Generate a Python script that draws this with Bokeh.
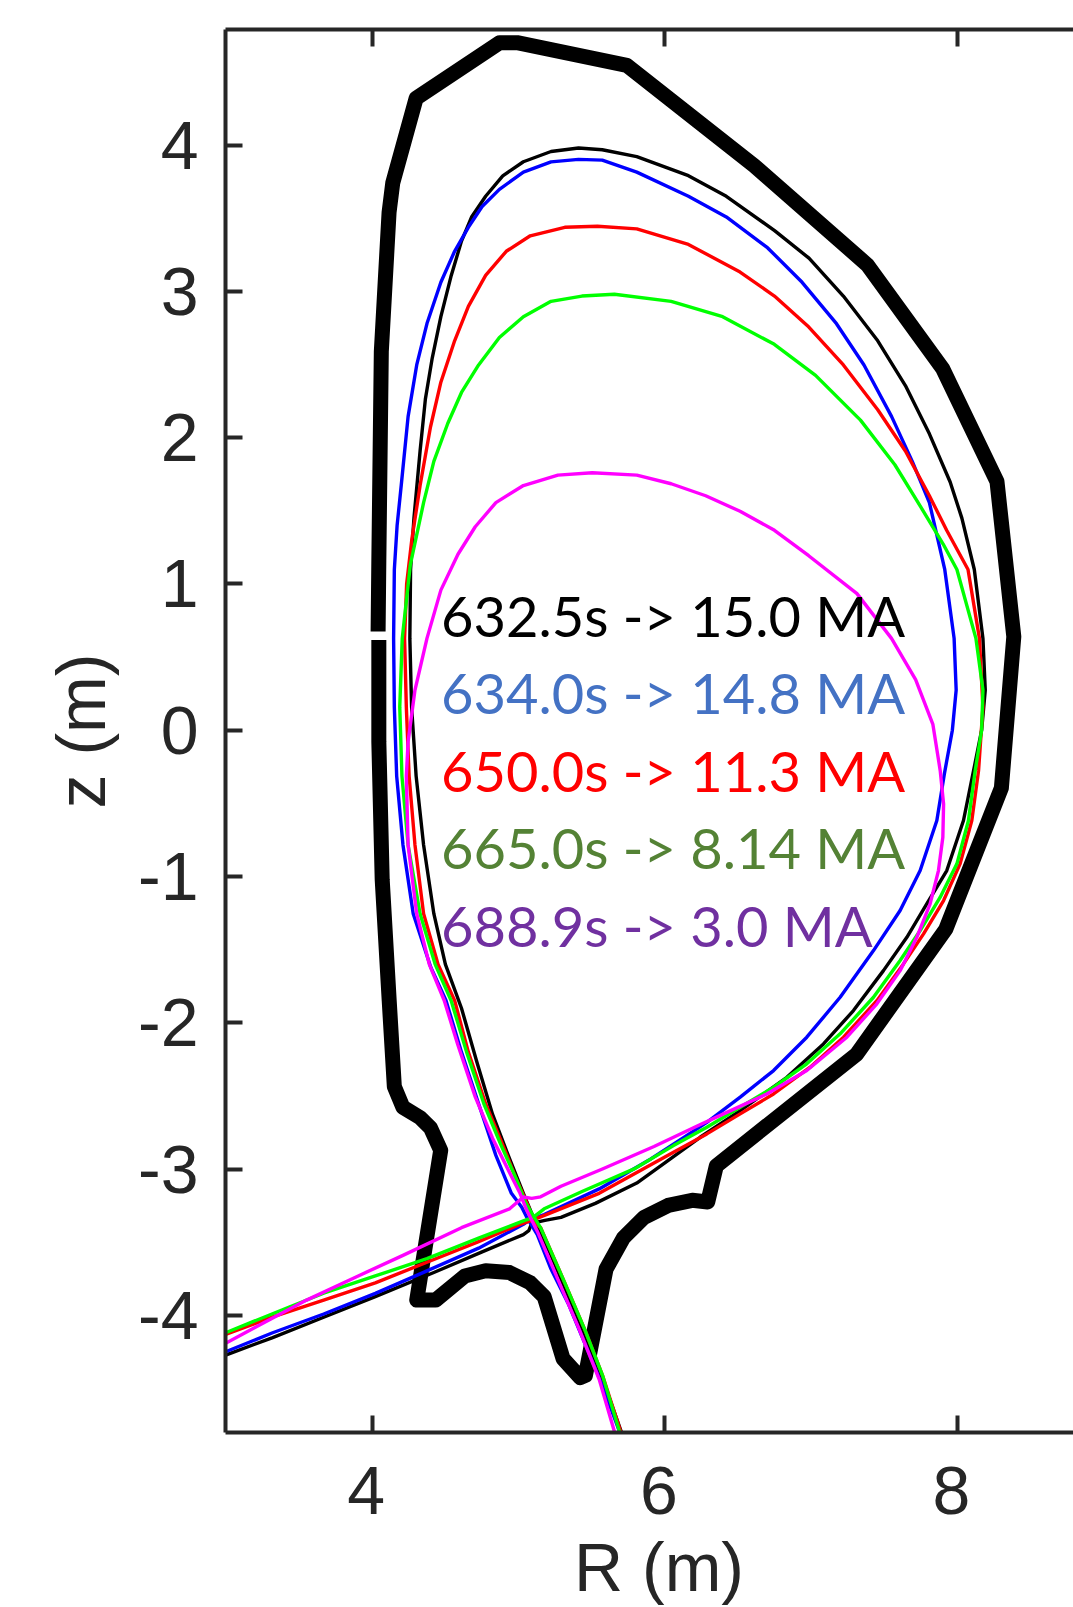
from bokeh.plotting import figure
from bokeh.layouts import column
from bokeh.models import Range1d, LinearAxis, FixedTicker
from bokeh.core.properties import value
from bokeh.embed import file_html
from bokeh.resources import INLINE

# ---------------- data (R, z) in metres ----------------
wall = [(4.045, 0.617), (4.045, -0.08), (4.068, -1.02), (4.116, -1.85), (4.151, -2.436),
        (4.21, -2.577), (4.327, -2.648), (4.398, -2.718), (4.468, -2.871), (4.304, -3.895),
        (4.433, -3.895), (4.633, -3.73), (4.775, -3.695), (4.939, -3.707), (5.08, -3.777),
        (5.175, -3.871), (5.304, -4.295), (5.422, -4.425), (5.457, -4.41), (5.516, -4.107),
        (5.598, -3.683), (5.716, -3.471), (5.857, -3.33), (6.022, -3.248), (6.187, -3.213),
        (6.293, -3.224), (6.352, -2.977), (7.31, -2.215), (7.92, -1.36), (8.30, -0.395),
        (8.385, 0.64), (8.27, 1.70), (7.90, 2.47), (7.385, 3.18), (6.61, 3.86), (5.74, 4.545),
        (4.99, 4.70), (4.87, 4.70), (4.30, 4.32), (4.14, 3.74), (4.115, 3.54), (4.062, 2.59),
        (4.045, 1.16), (4.04, 0.675)]

sep_632 = [(2.998, -4.271), (3.315, -4.153), (3.668, -4.012), (4.021, -3.871), (4.421, -3.706),
           (4.751, -3.565), (5.033, -3.447), (5.07, -3.42), (5.09, -3.37), (5.18, -3.35),
           (5.29, -3.33), (5.525, -3.234), (5.808, -3.095), (6.059, -2.915), (6.241, -2.782),
           (6.515, -2.6), (6.834, -2.372), (7.084, -2.144), (7.289, -1.916), (7.494, -1.643),
           (7.654, -1.415), (7.79, -1.187), (7.927, -0.959), (8.041, -0.617), (8.11, -0.276),
           (8.165, 0.0), (8.19, 0.275), (8.174, 0.628), (8.115, 1.099), (8.03, 1.45),
           (7.95, 1.697), (7.808, 2.026), (7.644, 2.356), (7.455, 2.662), (7.22, 2.968),
           (6.985, 3.227), (6.75, 3.415), (6.42, 3.65), (6.161, 3.791), (5.808, 3.921),
           (5.572, 3.968), (5.41, 3.98), (5.222, 3.956), (5.033, 3.886), (4.892, 3.79),
           (4.775, 3.65), (4.68, 3.51), (4.61, 3.344), (4.54, 3.109), (4.469, 2.827),
           (4.41, 2.544), (4.363, 2.262), (4.327, 1.909), (4.285, 1.45), (4.262, 1.1),
           (4.257, 0.628), (4.269, 0.158), (4.30, -0.313), (4.351, -0.784), (4.421, -1.254),
           (4.50, -1.6), (4.61, -1.9), (4.716, -2.271), (4.822, -2.624), (4.939, -2.93),
           (5.033, -3.165), (5.092, -3.307), (5.222, -3.589), (5.339, -3.871), (5.457, -4.153),
           (5.575, -4.436), (5.704, -4.8)]

sep_634 = [(2.998, -4.248), (3.315, -4.12), (3.668, -3.99), (4.021, -3.849), (4.374, -3.695),
           (4.727, -3.54), (5.033, -3.377), (5.08, -3.345), (5.175, -3.31), (5.551, -3.135),
           (5.904, -2.93), (6.059, -2.83), (6.287, -2.68), (6.515, -2.508), (6.743, -2.326),
           (6.97, -2.098), (7.198, -1.825), (7.426, -1.506), (7.608, -1.232), (7.745, -0.959),
           (7.859, -0.617), (7.91, -0.3), (7.965, 0.0), (7.991, 0.275), (7.977, 0.628),
           (7.913, 1.099), (7.808, 1.556), (7.691, 1.838), (7.55, 2.144), (7.361, 2.497),
           (7.173, 2.779), (6.938, 3.062), (6.703, 3.297), (6.42, 3.509), (6.161, 3.65),
           (5.808, 3.815), (5.572, 3.897), (5.41, 3.902), (5.222, 3.885), (5.033, 3.815),
           (4.869, 3.697), (4.751, 3.58), (4.657, 3.438), (4.563, 3.274), (4.469, 3.062),
           (4.374, 2.78), (4.304, 2.497), (4.245, 2.144), (4.198, 1.673), (4.17, 1.4),
           (4.151, 1.099), (4.146, 0.628), (4.151, 0.158), (4.167, -0.313), (4.21, -0.784),
           (4.28, -1.254), (4.40, -1.62), (4.504, -1.847), (4.61, -2.2), (4.727, -2.553),
           (4.845, -2.906), (4.951, -3.165), (5.022, -3.26), (5.057, -3.33), (5.128, -3.448),
           (5.222, -3.683), (5.339, -3.918), (5.457, -4.2), (5.575, -4.483), (5.692, -4.8)]

sep_650 = [(2.998, -4.13), (3.315, -4.012), (3.668, -3.895), (4.021, -3.777), (4.374, -3.636),
           (4.727, -3.495), (5.01, -3.377), (5.09, -3.35), (5.198, -3.307), (5.551, -3.165),
           (6.059, -2.884), (6.287, -2.759), (6.515, -2.622), (6.743, -2.486), (6.993, -2.303),
           (7.221, -2.098), (7.449, -1.848), (7.631, -1.597), (7.768, -1.392), (7.905, -1.164),
           (8.018, -0.913), (8.098, -0.617), (8.144, -0.276), (8.174, 0.158), (8.15, 0.628),
           (8.072, 1.099), (7.926, 1.367), (7.808, 1.603), (7.644, 1.909), (7.455, 2.191),
           (7.22, 2.497), (6.984, 2.756), (6.749, 2.968), (6.514, 3.132), (6.161, 3.321),
           (5.808, 3.427), (5.539, 3.445), (5.316, 3.438), (5.08, 3.38), (4.916, 3.274),
           (4.775, 3.109), (4.657, 2.897), (4.563, 2.662), (4.469, 2.379), (4.398, 2.073),
           (4.327, 1.673), (4.27, 1.3), (4.235, 1.0), (4.221, 0.628), (4.233, 0.158),
           (4.252, -0.313), (4.292, -0.784), (4.351, -1.254), (4.45, -1.6), (4.563, -1.847),
           (4.657, -2.2), (4.775, -2.553), (4.892, -2.835), (4.986, -3.071), (5.069, -3.259),
           (5.092, -3.354), (5.151, -3.40), (5.316, -3.777), (5.457, -4.107), (5.575, -4.413),
           (5.70, -4.8)]

sep_665 = [(2.998, -4.118), (3.433, -3.942), (3.668, -3.848), (4.021, -3.73), (4.374, -3.612),
           (4.727, -3.471), (5.033, -3.354), (5.10, -3.33), (5.175, -3.271), (5.434, -3.153),
           (5.786, -3.0), (6.059, -2.839), (6.287, -2.713), (6.515, -2.577), (6.743, -2.44),
           (6.97, -2.28), (7.198, -2.075), (7.426, -1.825), (7.608, -1.574), (7.745, -1.369),
           (7.882, -1.141), (7.996, -0.913), (8.075, -0.617), (8.121, -0.276), (8.165, 0.0),
           (8.174, 0.275), (8.126, 0.628), (7.996, 1.099), (7.902, 1.273), (7.76, 1.509),
           (7.572, 1.815), (7.337, 2.12), (7.03, 2.426), (6.748, 2.638), (6.395, 2.827),
           (6.043, 2.932), (5.655, 2.98), (5.433, 2.968), (5.222, 2.932), (5.033, 2.827),
           (4.869, 2.685), (4.727, 2.497), (4.61, 2.309), (4.516, 2.097), (4.421, 1.838),
           (4.351, 1.556), (4.26, 1.13), (4.205, 0.628), (4.188, 0.158), (4.203, -0.313),
           (4.245, -0.784), (4.327, -1.254), (4.43, -1.6), (4.539, -1.847), (4.645, -2.2),
           (4.763, -2.553), (4.88, -2.835), (4.986, -3.071), (5.045, -3.224), (5.09, -3.30),
           (5.151, -3.401), (5.316, -3.777), (5.457, -4.107), (5.575, -4.413), (5.692, -4.8)]

sep_689 = [(2.998, -4.19), (3.198, -4.083), (3.551, -3.895), (3.904, -3.73), (4.21, -3.589),
           (4.61, -3.4), (4.939, -3.271), (5.033, -3.19), (5.09, -3.20), (5.151, -3.189),
           (5.29, -3.117), (5.573, -2.999), (5.926, -2.845), (6.232, -2.70), (6.401, -2.622),
           (6.697, -2.486), (6.97, -2.326), (7.244, -2.098), (7.449, -1.87), (7.608, -1.643),
           (7.722, -1.415), (7.813, -1.187), (7.87, -0.959), (7.9, -0.731), (7.905, -0.503),
           (7.882, -0.276), (7.832, 0.04), (7.714, 0.346), (7.549, 0.628), (7.313, 0.934),
           (6.983, 1.193), (6.749, 1.367), (6.514, 1.497), (6.279, 1.603), (6.043, 1.685),
           (5.808, 1.744), (5.504, 1.76), (5.269, 1.744), (5.033, 1.673), (4.845, 1.556),
           (4.704, 1.391), (4.586, 1.203), (4.469, 0.958), (4.374, 0.628), (4.292, 0.275),
           (4.245, -0.078), (4.233, -0.313), (4.245, -0.784), (4.304, -1.254), (4.39, -1.6),
           (4.492, -1.847), (4.586, -2.153), (4.704, -2.506), (4.822, -2.788), (4.939, -3.024),
           (5.01, -3.165), (5.057, -3.283), (5.128, -3.424), (5.269, -3.753), (5.41, -4.083),
           (5.551, -4.436), (5.657, -4.8)]

separatrices = [sep_632, sep_634, sep_650, sep_665, sep_689]
curve_colors = ["#000000", "#0000FF", "#FF0000", "#00FF00", "#FF00FF"]

labels = ["632.5s -> 15.0 MA", "634.0s -> 14.8 MA", "650.0s -> 11.3 MA",
          "665.0s -> 8.14 MA", "688.9s -> 3.0 MA"]
label_colors = ["#000000", "#4472C4", "#FF0000", "#548235", "#7030A0"]

x_ticks = [4, 6, 8]
y_ticks = [-4, -3, -2, -1, 0, 1, 2, 3, 4]
x_title = "R (m)"
y_title = "z (m)"

# ---------------- figure ----------------
AX = "#262626"
FONT = "Liberation Sans"
FS = "68px"
W = 1073
H_MAIN = 1444
H_FOOT = 1607 - H_MAIN

xr = Range1d(2.997, 8.793)
p = figure(width=W, height=H_MAIN, x_range=xr, y_range=Range1d(-4.800, 4.790),
           output_backend="svg", toolbar_location=None,
           min_border_left=225, min_border_right=0, min_border_top=29, min_border_bottom=12)
p.grid.visible = False
p.outline_line_color = None


def style_axis(ax, ticks, show_labels=True, standoff=20):
    ax.ticker = FixedTicker(ticks=ticks)
    ax.major_label_overrides = {t: (str(t) if show_labels else "") for t in ticks}
    ax.major_tick_in = 17
    ax.major_tick_out = 0
    ax.minor_tick_in = 0
    ax.minor_tick_out = 0
    ax.axis_line_color = AX
    ax.axis_line_width = 4
    ax.major_tick_line_color = AX
    ax.major_tick_line_width = 4
    ax.major_label_text_font = FONT
    ax.major_label_text_font_size = FS if show_labels else "1px"
    ax.major_label_text_color = AX
    ax.major_label_standoff = standoff


style_axis(p.xaxis[0], x_ticks, False, 0)
style_axis(p.yaxis[0], y_ticks, True, 27)
p.yaxis[0].axis_label = y_title
p.yaxis[0].axis_label_text_font = FONT
p.yaxis[0].axis_label_text_font_size = FS
p.yaxis[0].axis_label_text_font_style = "normal"
p.yaxis[0].axis_label_text_color = AX
p.yaxis[0].axis_label_standoff = 16

top = LinearAxis()
style_axis(top, x_ticks, False, 0)
p.add_layout(top, "above")

# first wall
p.line([r for r, z in wall], [z for r, z in wall], line_color="black",
       line_width=15, line_join="round", line_cap="butt")

# separatrices
for sep, col in zip(separatrices, curve_colors):
    p.line([r for r, z in sep], [z for r, z in sep], line_color=col,
           line_width=3.4, line_join="round")

# annotations
p.text(x=[4.47] * len(labels), y=[0.787 - 0.5305 * i for i in range(len(labels))],
       text=labels, text_color=label_colors, text_font=value("Lato"),
       text_font_size="56px", text_align="left", text_baseline="middle")

# ---------- strip under the axes: x tick labels and the x title (shares the R scale) ----------
f = figure(width=W, height=H_FOOT, x_range=xr, y_range=Range1d(0, H_FOOT),
           output_backend="svg", toolbar_location=None,
           x_axis_location=None, y_axis_location=None,
           min_border_left=225, min_border_right=0, min_border_top=0, min_border_bottom=0)
f.grid.visible = False
f.outline_line_color = None
f.text(x=[t - 0.041 for t in x_ticks], y=[H_FOOT - 46] * len(x_ticks),
       text=[str(t) for t in x_ticks], text_color=AX, text_font=value(FONT),
       text_font_size=FS, text_align="center", text_baseline="middle")
f.text(x=[5.96], y=[H_FOOT - 122], text=[x_title], text_color=AX, text_font=value(FONT),
       text_font_size=FS, text_align="center", text_baseline="middle")

open("out.html", "w").write(file_html(column(p, f, spacing=0), INLINE))
